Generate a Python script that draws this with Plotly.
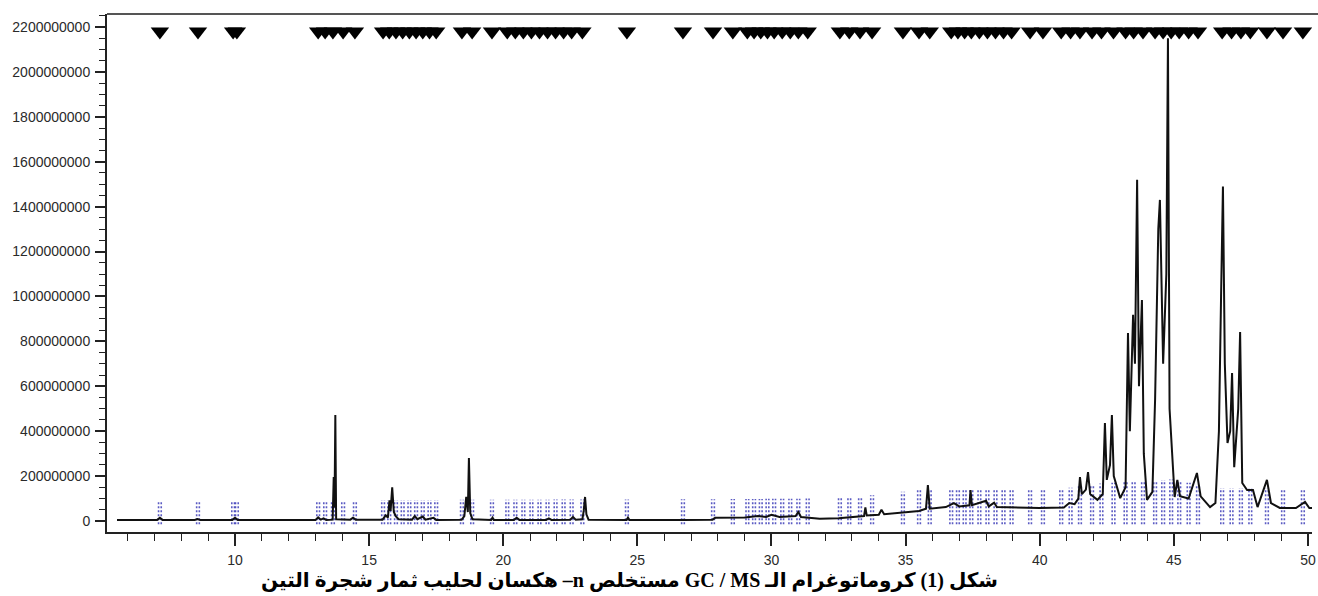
import plotly.graph_objects as go
import numpy as np

# ---------------- data ----------------
# chromatogram trace: retention time (min) and abundance (millions of counts)
rt_min = [
    5.6, 7.1, 7.2, 7.3, 8.5, 8.6, 8.7, 9.9, 10.0, 10.1,
    13.0, 13.1, 13.2, 13.3, 13.4, 13.64, 13.68, 13.71, 13.74, 13.77,
    14.3, 14.4, 14.5, 15.5, 15.62, 15.7, 15.76, 15.8, 15.86, 15.92, 16.0, 16.1,
    16.6, 16.7, 16.8, 17.0, 17.1, 17.4, 17.5,
    18.45, 18.55, 18.62, 18.68, 18.72, 18.77, 18.85,
    19.55, 19.6, 19.65, 20.4, 20.5, 20.6, 21.6, 21.7, 21.8, 22.5, 22.6, 22.7,
    22.95, 23.0, 23.05, 23.1, 23.18, 24.6, 24.65, 24.7,
    26.7, 27.8, 27.9, 28.5, 29.0, 29.5, 29.8, 30.0, 30.3, 30.9, 31.0, 31.1,
    31.5, 31.8, 32.5, 33.0, 33.45, 33.5, 33.55, 34.0, 34.1, 34.2,
    35.0, 35.5, 35.76, 35.83, 35.9, 36.5, 36.8, 37.0, 37.38, 37.42, 37.47,
    38.0, 38.1, 38.3, 38.4, 39.0, 40.0, 40.9, 41.1, 41.3,
    41.44, 41.5, 41.57, 41.72, 41.8, 41.88, 42.15, 42.35, 42.43, 42.5, 42.62, 42.69, 42.76,
    43.0, 43.2, 43.29, 43.36, 43.48, 43.55, 43.63, 43.7, 43.81, 43.88, 44.0,
    44.2, 44.3, 44.42, 44.48, 44.6, 44.72, 44.78, 44.84, 44.9, 44.96, 45.03,
    45.13, 45.23, 45.55, 45.86, 46.0, 46.35, 46.55, 46.68, 46.76, 46.83, 46.9, 47.0,
    47.1, 47.17, 47.25, 47.4, 47.47, 47.55, 47.73, 47.95, 48.12, 48.47, 48.62, 48.95, 49.55,
    49.89, 50.05, 50.3,
]
abundance_m = [
    5, 5, 14, 5, 5, 9, 5, 5, 14, 5,
    5, 16, 6, 12, 5, 6, 196, 60, 472, 8,
    6, 15, 6, 6, 25, 15, 92, 45, 150, 40, 20, 8,
    6, 22, 8, 20, 6, 14, 5,
    6, 22, 107, 40, 280, 35, 8,
    5, 15, 5, 5, 14, 5, 5, 12, 5, 6, 18, 6,
    8, 45, 107, 30, 6, 5, 15, 5,
    5, 6, 14, 14, 16, 22, 18, 28, 18, 22, 40, 18,
    15, 10, 12, 18, 22, 60, 25, 28, 50, 30,
    38, 45, 55, 160, 55, 62, 80, 65, 70, 138, 70,
    90, 65, 82, 62, 60, 58, 60, 80, 75,
    100, 196, 120, 140, 218, 120, 94, 120, 436, 183, 250, 472, 200,
    102, 150, 837, 400, 918, 700, 1520, 600, 984, 300, 94,
    130, 539, 1300, 1430, 700, 1100, 2150, 500, 374, 196, 107,
    183, 110, 100, 214, 110, 62, 80, 400, 1000, 1490, 700, 347,
    400, 659, 240, 500, 842, 169, 138, 138, 62, 183, 80, 58, 58,
    85, 58, 58,
]

# identified compound markers (top triangles), min
peak_marks_min = [
    7.2, 8.62, 9.93, 10.07,
    13.1, 13.36, 13.65, 14.03, 14.47,
    15.52, 15.75, 16.0, 16.25, 16.5, 16.75, 17.0, 17.25, 17.5,
    18.46, 18.84, 19.58,
    20.15, 20.45, 20.75, 21.05, 21.35, 21.65, 21.95, 22.25, 22.55, 22.95,
    24.61, 26.7, 27.82, 28.56,
    29.1, 29.35, 29.6, 29.85, 30.1, 30.4, 30.7, 31.0, 31.35,
    32.55, 32.9, 33.3, 33.75, 34.9, 35.5, 35.9,
    36.7, 36.95, 37.2, 37.45, 37.75, 38.05, 38.35, 38.65, 38.95,
    39.64, 40.12, 40.8, 41.15, 41.5, 41.95, 42.3, 42.75,
    43.2, 43.5, 43.85, 44.3, 44.6, 44.9, 45.2, 45.55, 45.9,
    46.8, 47.15, 47.5, 47.85, 48.47, 49.07, 49.81,
]
marker_level_m = 2180

# local baseline level used to place the blue integration marks
baseline_t = [5.0, 27.8, 31.5, 33.0, 35.6, 41.0, 42.0, 45.0, 46.4, 48.2, 50.3]
baseline_v = [5, 12, 15, 20, 55, 60, 80, 100, 62, 62, 58]

y_ticks = [0, 200000000, 400000000, 600000000, 800000000, 1000000000,
           1200000000, 1400000000, 1600000000, 1800000000, 2000000000, 2200000000]
x_ticks = [10, 15, 20, 25, 30, 35, 40, 45, 50]

caption = "شكل (1) كروماتوغرام الـ GC / MS مستخلص n– هكسان لحليب ثمار شجرة التين"

# ---------------- figure ----------------
M = 1e6
fig = go.Figure()

# blue dotted integration marks (pairs of thin dotted strokes)
base_at = np.interp(peak_marks_min, baseline_t, baseline_v)
bx, by = [], []
for t, b in zip(peak_marks_min, base_at):
    for dt in (-0.05, 0.05):
        bx += [t + dt, t + dt, None]
        by += [-15 * M, (b + 85) * M, None]
fig.add_trace(go.Scatter(x=bx, y=by, mode="lines",
                         line=dict(color="rgba(50,50,180,0.8)", width=1.6, dash="2px,2px"),
                         hoverinfo="skip", showlegend=False))

# chromatogram
fig.add_trace(go.Scatter(x=rt_min, y=[v * M for v in abundance_m], mode="lines",
                         line=dict(color="#111111", width=2),
                         showlegend=False))

# top triangles
fig.add_trace(go.Scatter(x=peak_marks_min, y=[marker_level_m * M] * len(peak_marks_min),
                         mode="markers",
                         marker=dict(symbol="triangle-down", size=16, color="#000000"),
                         showlegend=False))

fig.update_layout(
    width=1318, height=596,
    margin=dict(l=107, r=6, t=14, b=64, autoexpand=False),
    paper_bgcolor="white", plot_bgcolor="white",
    font=dict(family="Liberation Sans, Arial, sans-serif", size=14, color="#2a2a2a"),
    xaxis=dict(range=[5.228, 50.15], tickvals=x_ticks, ticks="outside", ticklen=12,
               tickwidth=1.5, tickcolor="#222", showline=True, linecolor="#222", linewidth=2,
               showgrid=False, zeroline=False, automargin=False, ticklabelstandoff=2,
               minor=dict(dtick=1, ticks="outside", ticklen=7, tickcolor="#222", tickwidth=1.3)),
    yaxis=dict(range=[-49e6, 2258e6], tickvals=y_ticks, ticktext=[str(v) for v in y_ticks],
               ticks="outside", ticklen=10, tickwidth=1.5, tickcolor="#222",
               showline=True, linecolor="#222", linewidth=2, showgrid=False, zeroline=False,
               automargin=False, ticklabelstandoff=2,
               minor=dict(dtick=50e6, ticks="outside", ticklen=6, tickcolor="#222", tickwidth=1.3)),
    shapes=[dict(type="line", xref="paper", yref="paper", x0=0, x1=1.01, y0=1, y1=1,
                 line=dict(color="#555", width=2))],
    annotations=[dict(text="<b>\u202b" + caption + "\u202c</b>", xref="paper", yref="paper",
                      x=0.434, y=-0.0927,
                      xanchor="center", yanchor="middle", showarrow=False,
                      font=dict(family="Liberation Serif, DejaVu Serif, DejaVu Sans", size=20,
                                color="#000"))],
)

fig.write_html("out.html", config={"displayModeBar": False},
               post_script="document.body.style.margin='0';document.body.style.overflow='hidden';")
